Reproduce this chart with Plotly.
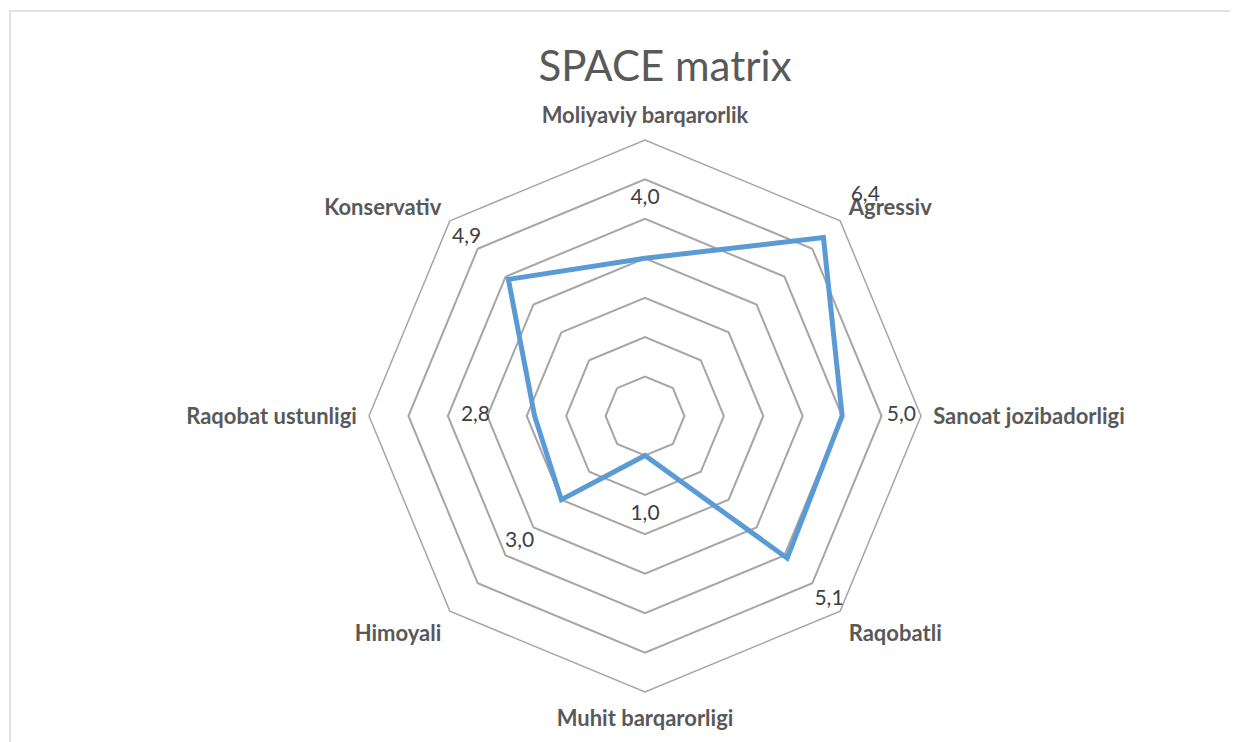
import plotly.graph_objects as go

categories = ["Moliyaviy barqarorlik", "Agressiv", "Sanoat jozibadorligi", "Raqobatli",
              "Muhit barqarorligi", "Himoyali", "Raqobat ustunligi", "Konservativ"]
values = [4.0, 6.4, 5.0, 5.1, 1.0, 3.0, 2.8, 4.9]
label_offset = 1.5

W, H = 1238, 742
OFF = 8  # page body margin
cx, cy, R = 645 - OFF, 416 - OFF, 276
RMAX, RMAX2 = 7, 8
R2 = R * RMAX2 / RMAX

labels = [f"{v:.1f}".replace(".", ",") for v in values]

fig = go.Figure()
fig.add_trace(go.Scatterpolar(
    r=values + [values[0]], theta=categories + [categories[0]],
    mode="lines", line=dict(color="#5b9bd5", width=5),
    hoverinfo="skip", showlegend=False, subplot="polar",
))
fig.add_trace(go.Scatterpolar(
    r=[v + label_offset for v in values], theta=categories,
    mode="text", text=labels, cliponaxis=False,
    textfont=dict(family="Lato", size=21, color="#404040"),
    hoverinfo="skip", showlegend=False, subplot="polar2",
))

def dom(radius):
    return dict(x=[(cx - radius) / W, (cx + radius) / W],
                y=[(H - cy - radius) / H, (H - cy + radius) / H])

fig.update_layout(
    width=W, height=H,
    margin=dict(l=0, r=0, t=0, b=0),
    paper_bgcolor="white", plot_bgcolor="white",
    title=dict(text="SPACE matrix", x=(665 - OFF) / W, xanchor="center",
               y=1 - (66 - OFF) / H, yanchor="middle",
               font=dict(family="Lato", size=42, color="#595959")),
    polar=dict(
        domain=dom(R),
        gridshape="linear",
        bgcolor="white",
        radialaxis=dict(range=[0, RMAX], dtick=1, tick0=0, showticklabels=False, ticks="",
                        showline=False, gridcolor="#a6a6a6", gridwidth=1.5),
        angularaxis=dict(rotation=90, direction="clockwise", showgrid=False,
                         categoryorder="array", categoryarray=categories,
                         showline=True, linecolor="#a6a6a6", linewidth=1.5,
                         ticks="outside", ticklen=7, tickcolor="rgba(0,0,0,0)",
                         tickfont=dict(family="Lato", size=22, color="#595959", weight="bold")),
    ),
    polar2=dict(
        domain=dom(R2),
        gridshape="linear",
        bgcolor="rgba(0,0,0,0)",
        radialaxis=dict(range=[0, RMAX2], visible=False),
        angularaxis=dict(rotation=90, direction="clockwise", visible=False,
                         categoryorder="array", categoryarray=categories),
    ),
    shapes=[dict(type="rect", xref="paper", yref="paper",
                 x0=(10 - OFF) / W, x1=1.05, y0=-0.05, y1=(H - 11 + OFF) / H,
                 line=dict(color="#d9d9d9", width=1.5), fillcolor="rgba(0,0,0,0)")],
)

fig.write_html("out.html")
